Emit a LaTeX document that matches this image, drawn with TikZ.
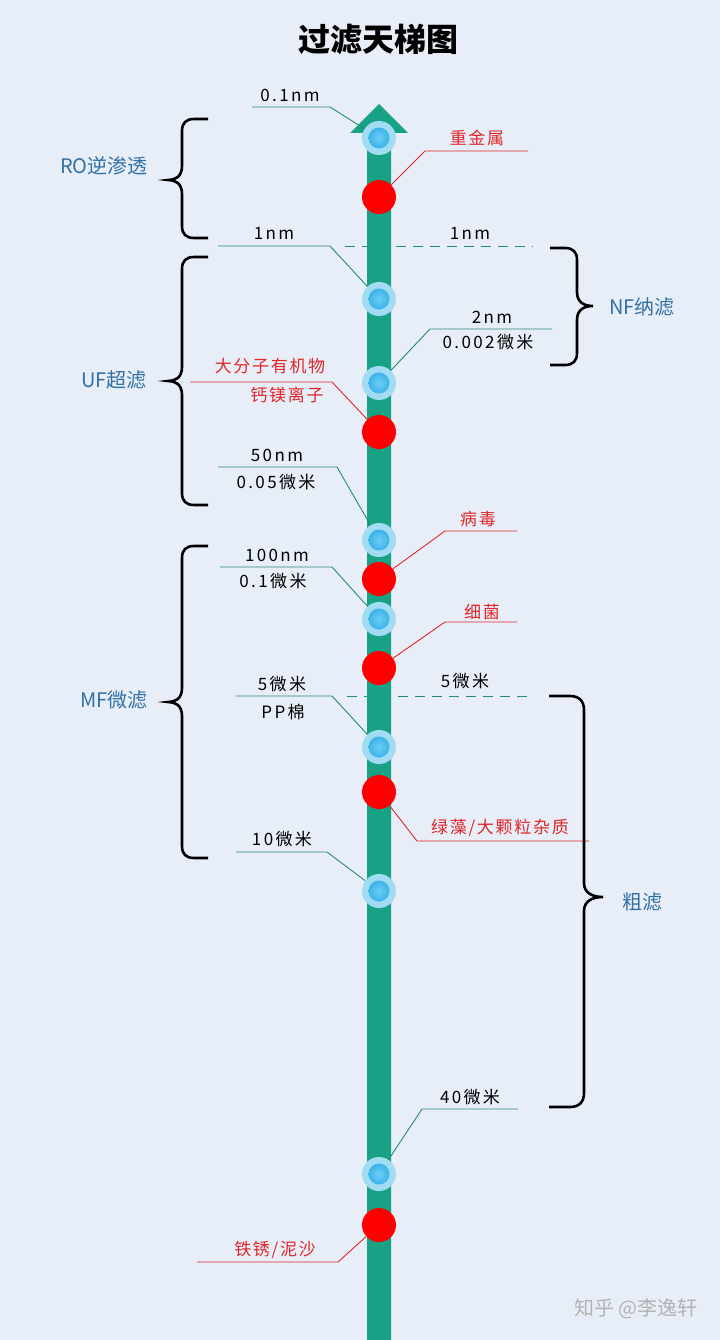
\documentclass[tikz,border=0pt]{standalone}
\usepackage{fontspec}
\setmainfont{Noto Sans CJK SC}
\newfontfamily\spaced[LetterSpace=14]{Noto Sans CJK SC}
\newfontfamily\redspaced[LetterSpace=10]{Noto Sans CJK SC}
\definecolor{bgblue}{RGB}{232,238,248}
\definecolor{barteal}{RGB}{25,161,134}
\definecolor{leadteal}{RGB}{35,138,118}
\definecolor{tagred}{RGB}{226,38,40}
\definecolor{grpblue}{RGB}{50,113,166}
\definecolor{halo}{RGB}{162,220,242}
\definecolor{ballblue}{RGB}{26,163,227}
\definecolor{ballhi}{RGB}{110,205,245}
\begin{document}
\begin{tikzpicture}[x=1pt, y=-1pt,
  lbl/.style={font=\fontsize{17}{19}\selectfont\spaced, text=black, inner sep=1pt},
  redlbl/.style={font=\fontsize{17}{19}\selectfont\redspaced, text=tagred, inner sep=1pt},
  grp/.style={font=\fontsize{20}{22}\selectfont, text=grpblue},
  lead/.style={draw=leadteal, line width=0.9pt},
  redlead/.style={draw=tagred, line width=0.9pt},
  cut/.style={draw=leadteal, line width=1pt, dash pattern=on 10pt off 7pt},
  ball/.style={circle, minimum size=34pt, inner sep=0pt, fill=halo,
               path picture={\shade[inner color=ballhi, outer color=ballblue]
                 (path picture bounding box.center) circle (10.5pt);}},
  dot/.style={circle, minimum size=34pt, inner sep=0pt, fill=red},
  brc/.style={draw=black, line width=2.6pt}
]
% page
\fill[bgblue] (0,0) rectangle (720,1340);
\node[font=\fontsize{32}{36}\selectfont\bfseries] (title) at (378,40) {过滤天梯图};

% dashed cut lines (behind the bar)
\coordinate (c1a) at (345,247);
\coordinate (c1b) at (533,247);
\coordinate (c2a) at (347,696);
\coordinate (c2b) at (533,696);
\draw[cut] (c1a) -- (c1b);
\draw[cut] (c2a) -- (c2b);

% the ladder
\fill[barteal] (367,1340) -- (367,133) -- (350,133) -- (379,104) -- (408,133)
  -- (391,133) -- (391,1340) -- cycle;

% pore sizes (blue) and particles (red)
\node[ball] (b1) at (379,138) {};
\node[ball] (b2) at (379,299) {};
\node[ball] (b3) at (379,383) {};
\node[ball] (b4) at (379,540) {};
\node[ball] (b5) at (379,619) {};
\node[ball] (b6) at (379,747) {};
\node[ball] (b7) at (379,891) {};
\node[ball] (b8) at (379,1174) {};
\node[dot] (r1) at (379,197) {};
\node[dot] (r2) at (379,432) {};
\node[dot] (r3) at (379,579) {};
\node[dot] (r4) at (379,668) {};
\node[dot] (r5) at (379,792) {};
\node[dot] (r6) at (379,1225) {};

% leader ends and knees
\coordinate (e1) at (252,107);  \coordinate (k1) at (330,107);
\coordinate (e2) at (218,246);  \coordinate (k2) at (330,246);
\coordinate (e3) at (552,329);  \coordinate (k3) at (430,329);
\coordinate (e4) at (218,467);  \coordinate (k4) at (337,467);
\coordinate (e5) at (220,567);  \coordinate (k5) at (332,567);
\coordinate (e6) at (236,696);  \coordinate (k6) at (332,696);
\coordinate (e7) at (236,852);  \coordinate (k7) at (327,852);
\coordinate (e8) at (518,1109); \coordinate (k8) at (422,1109);
\coordinate (f1) at (528,151);  \coordinate (g1) at (425,151);
\coordinate (f2) at (190,382);  \coordinate (g2) at (332,382);
\coordinate (f3) at (517,531);  \coordinate (g3) at (445,531);
\coordinate (f4) at (517,622);  \coordinate (g4) at (445,622);
\coordinate (f5) at (589,841);  \coordinate (g5) at (417,841);
\coordinate (f6) at (197,1262); \coordinate (g6) at (338,1262);

\foreach \i in {1,...,8}
  \draw[lead] (e\i) -- (k\i) -- (b\i);
\foreach \i in {1,...,6}
  \draw[redlead] (f\i) -- (g\i) -- (r\i);

% size labels
\node[lbl] (t1) at (290,95) {0.1nm};
\node[lbl] (t2) at (274,233) {1nm};
\node[lbl] (t2r) at (470,233) {1nm};
\node[lbl] (t3) at (492,317) {2nm};
\node[lbl] (t3b) at (488,342) {0.002微米};
\node[lbl] (t4) at (277,455) {50nm};
\node[lbl] (t4b) at (276,482) {0.05微米};
\node[lbl] (t5) at (277,555) {100nm};
\node[lbl] (t5b) at (273,581) {0.1微米};
\node[lbl] (t6) at (282,684) {5微米};
\node[lbl] (t6b) at (283,712) {PP棉};
\node[lbl] (t6r) at (465,681) {5微米};
\node[lbl] (t7) at (282,839) {10微米};
\node[lbl] (t8) at (470,1097) {40微米};

% particle labels
\node[redlbl] (p1) at (477,138) {重金属};
\node[redlbl] (p2) at (270,366) {大分子有机物};
\node[redlbl] (p2b) at (287,395) {钙镁离子};
\node[redlbl] (p3) at (478,519) {病毒};
\node[redlbl] (p4) at (482,612) {细菌};
\node[redlbl] (p5) at (500,828) {绿藻/大颗粒杂质};
\node[redlbl] (p6) at (275,1250) {铁锈/泥沙};

% braces
\draw[brc] (208,119) -- (194,119) .. controls (186,119) and (182,123) .. (182,131) -- (182,166)
  .. controls (182,177) and (175,180) .. (168,180) .. controls (175,180) and (182,183) .. (182,194)
  -- (182,226) .. controls (182,234) and (186,238) .. (194,238) -- (208,238);
\draw[brc] (208,257) -- (194,257) .. controls (186,257) and (182,261) .. (182,269) -- (182,367)
  .. controls (182,378) and (175,381) .. (168,381) .. controls (175,381) and (182,384) .. (182,395)
  -- (182,493) .. controls (182,501) and (186,505) .. (194,505) -- (208,505);
\draw[brc] (208,546) -- (194,546) .. controls (186,546) and (182,550) .. (182,558) -- (182,688)
  .. controls (182,699) and (175,702) .. (168,702) .. controls (175,702) and (182,705) .. (182,716)
  -- (182,846) .. controls (182,854) and (186,858) .. (194,858) -- (208,858);
\draw[brc] (550,248) -- (565,248) .. controls (573,248) and (577,252) .. (577,260) -- (577,292)
  .. controls (577,303) and (585,306) .. (593,306) .. controls (585,306) and (577,309) .. (577,320)
  -- (577,353) .. controls (577,361) and (573,365) .. (565,365) -- (550,365);
\draw[brc] (549,696) -- (570,696) .. controls (579,696) and (584,701) .. (584,710) -- (584,883)
  .. controls (584,894) and (594,897) .. (603,897) .. controls (594,897) and (584,900) .. (584,911)
  -- (584,1093) .. controls (584,1102) and (579,1107) .. (570,1107) -- (549,1107);

% filter stages
\node[grp] (ro) at (104,166) {RO逆渗透};
\node[grp] (uf) at (114,380) {UF超滤};
\node[grp] (mf) at (114,700) {MF微滤};
\node[grp] (nf) at (642,307) {NF纳滤};
\node[grp] (cu) at (642,902) {粗滤};

\node[font=\fontsize{20}{22}\selectfont, text=black!30] (wm) at (636,1309) {知乎 @李逸轩};
\end{tikzpicture}
\end{document}
